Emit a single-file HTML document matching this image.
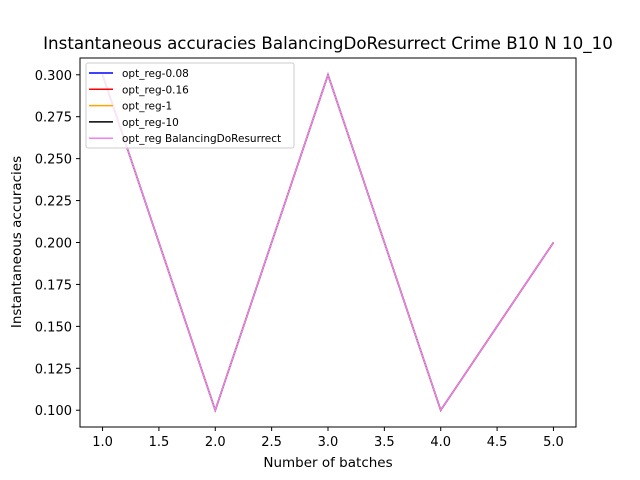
<!DOCTYPE html>
<html><head><meta charset="utf-8"><style>body{margin:0;background:#fff}svg{display:block;font-family:"DejaVu Sans","Liberation Sans",sans-serif}</style></head>
<body>
<svg id="chart" width="640" height="480">
<rect width="640" height="480" fill="#fff"/>
<text x="328" y="49" font-size="16.7" text-anchor="middle">Instantaneous accuracies BalancingDoResurrect Crime B10 N 10_10</text>
<g id="xt"></g><g id="yt"></g><g id="lines"></g>
<rect x="80" y="58" width="496" height="369" fill="none" stroke="#000" stroke-width="1"/>
<text x="328" y="467" font-size="13.5" text-anchor="middle">Number of batches</text>
<text transform="translate(21,242) rotate(-90)" font-size="13.5" text-anchor="middle">Instantaneous accuracies</text>
<g id="legend">
<rect x="86" y="63" width="208" height="85" rx="2" fill="#fff" fill-opacity="0.8" stroke="#ccc"/>
</g>
</svg>
<script>
const batches=[1,2,3,4,5];
const seriesNames=["opt_reg-0.08","opt_reg-0.16","opt_reg-1","opt_reg-10","opt_reg BalancingDoResurrect"];
const seriesColors=["blue","red","orange","black","violet"];
const s1=[0.3,0.1,0.3,0.1,0.2];
const s2=[0.3,0.1,0.3,0.1,0.2];
const s3=[0.3,0.1,0.3,0.1,0.2];
const s4=[0.3,0.1,0.3,0.1,0.2];
const s5=[0.3,0.1,0.3,0.1,0.2];
const xTicks=[1.0,1.5,2.0,2.5,3.0,3.5,4.0,4.5,5.0];
const yTicks=[0.100,0.125,0.150,0.175,0.200,0.225,0.250,0.275,0.300];
const NS="http://www.w3.org/2000/svg";
const X=v=>80+(v-0.8)/4.4*496;
const Y=v=>427-(v-0.09)/0.22*369;
function mk(t,a,p){const e=document.createElementNS(NS,t);for(const k in a)e.setAttribute(k,a[k]);p.appendChild(e);return e;}
const xt=document.getElementById('xt'),yt=document.getElementById('yt'),lg=document.getElementById('lines'),leg=document.getElementById('legend');
xTicks.forEach(v=>{const x=X(v);
const l=mk('line',{x1:x,x2:x,y1:427,y2:431,stroke:'#000'},xt);


const t=mk('text',{x:x,y:446,'font-size':13,'text-anchor':'middle'},xt);t.textContent=v.toFixed(1);

});
yTicks.forEach(v=>{const y=Y(v);
const l=mk('line',{x1:76,x2:80,y1:y,y2:y,stroke:'#000'},yt);


const t=mk('text',{x:72,y:y+5,'font-size':13,'text-anchor':'end'},yt);t.textContent=v.toFixed(3);

});
[s1,s2,s3,s4,s5].forEach((s,i)=>{
const p=mk('polyline',{points:s.map((v,j)=>X(batches[j])+','+Y(v)).join(' '),fill:'none',stroke:seriesColors[i],'stroke-width':1.5},lg);


const y=73+i*16.3;
const ll=mk('line',{x1:89,x2:113,y1:y,y2:y,stroke:seriesColors[i],'stroke-width':1.5},leg);


const t=mk('text',{x:122,y:y+4,'font-size':10.5},leg);t.textContent=seriesNames[i];


});
</script>
</body></html>
